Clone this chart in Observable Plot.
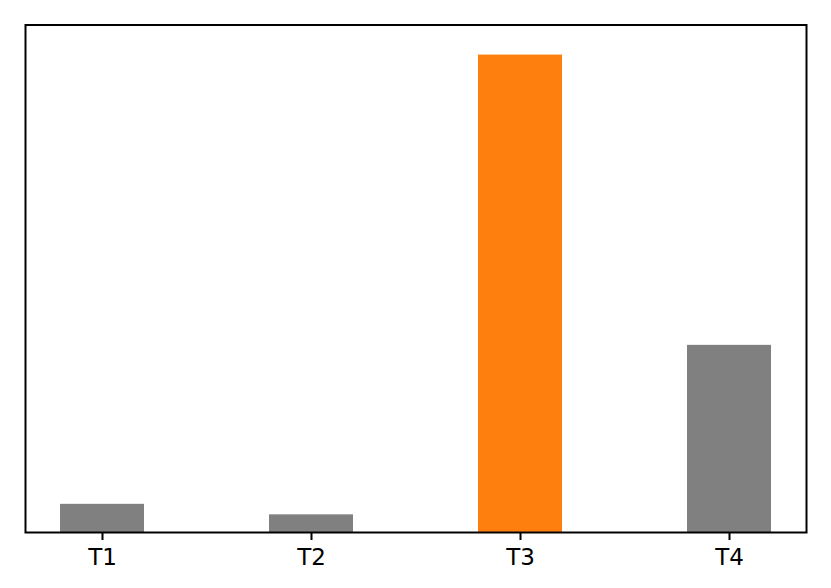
<!DOCTYPE html>
<html>
<head>
<meta charset="utf-8">
<script src="https://cdn.jsdelivr.net/npm/d3@7"></script>
<script src="https://cdn.jsdelivr.net/npm/@observablehq/plot@0.6"></script>
<style>
  html, body { margin: 0; padding: 0; background: #fff; }
  #chart svg { display: block; }
</style>
</head>
<body>
<div id="chart"></div>
<script>
const categories = ["T1", "T2", "T3", "T4"];
const values = [5.9, 3.7, 100, 39.2];
const highlight = ["T3"];
const yMax = 106.3;

const data = categories.map((c, i) => ({cat: c, value: values[i], hi: highlight.includes(c)}));

const chart = Plot.plot({
  width: 831,
  height: 588,
  marginLeft: 25,
  marginRight: 25,
  marginTop: 24.5,
  marginBottom: 56,
  style: {background: "#fff", fontFamily: "DejaVu Sans", fontSize: "23px", color: "#000"},
  x: {domain: categories, paddingInner: 0.6, paddingOuter: 0.1684, label: null, axis: null},
  y: {domain: [0, yMax], axis: null},
  marks: [
    Plot.barY(data, {x: "cat", y: "value", fill: d => d.hi ? "#ff7f0e" : "#808080"}),
    Plot.axisX({tickSize: 8, tickPadding: 8, fontSize: 23, strokeWidth: 2, label: null, stroke: "#000", fill: "#000"}),
    Plot.frame({stroke: "#000", strokeWidth: 2})
  ]
});
document.getElementById("chart").appendChild(chart);
</script>
</body>
</html>
